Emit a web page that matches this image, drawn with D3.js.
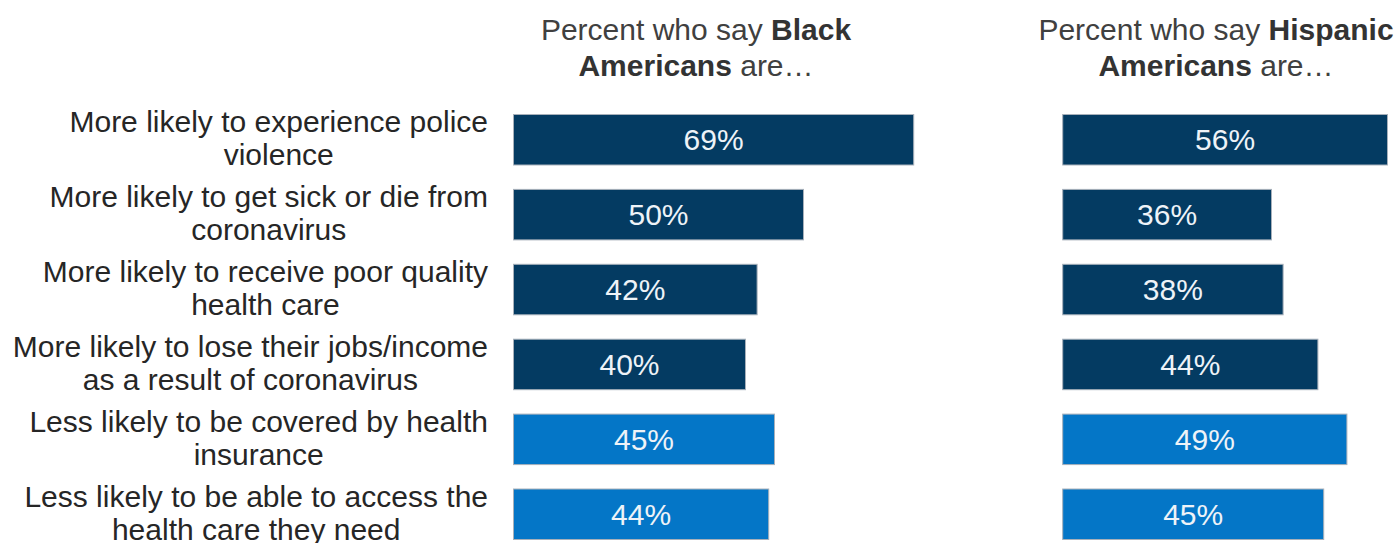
<!DOCTYPE html>
<html>
<head>
<meta charset="utf-8">
<script src="https://cdn.jsdelivr.net/npm/d3@7/dist/d3.min.js"></script>
<style>
  html, body { margin: 0; padding: 0; background: #ffffff; }
  svg { display: block; }
  text { font-family: "Liberation Sans", Arial, sans-serif; }
</style>
</head>
<body>
<svg id="chart" width="1400" height="543"></svg>
<script>
// Survey items, each split into the lines it is printed on
const categories = [
  ["More likely to experience police", "violence"],
  ["More likely to get sick or die from", "coronavirus"],
  ["More likely to receive poor quality", "health care"],
  ["More likely to lose their jobs/income", "as a result of coronavirus"],
  ["Less likely to be covered by health", "insurance"],
  ["Less likely to be able to access the", "health care they need"]
];
// "More likely" items vs "Less likely" items
const itemKinds = ["more", "more", "more", "more", "less", "less"];

// Percent who say each item applies
const blackValues = [69, 50, 42, 40, 45, 44];
const hispanicValues = [56, 36, 38, 44, 49, 45];

// Panel headings: [regular, bold, regular] pieces per line
const blackHeading = [["Percent who say ", "Black", ""], ["", "Americans", " are…"]];
const hispanicHeading = [["Percent who say ", "Hispanic", ""], ["", "Americans", " are…"]];

const FONT = 30;
const colors = { more: "#043b62", less: "#0476c7" };

const svg = d3.select("#chart");

// Shared scales
const x = d3.scaleLinear().domain([0, 100]).range([0, 580]);
const y = d3.scaleBand()
  .domain(d3.range(categories.length))
  .range([114.5, 539.5])
  .paddingInner(0.326)
  .paddingOuter(0);

// Row labels: each block is right-aligned, its lines centred on one another
const labelRight = 488;
const labels = svg.append("g").attr("class", "row-labels");
categories.forEach((lines, i) => {
  const cy = y(i) + y.bandwidth() / 2;
  const g = labels.append("g");
  const texts = lines.map((line, j) =>
    g.append("text")
      .attr("y", cy - 7.5 + j * 33)
      .attr("text-anchor", "middle")
      .attr("font-size", FONT)
      .attr("fill", "#262626")
      .text(line)
  );
  const maxW = d3.max(texts, t => t.node().getComputedTextLength());
  texts.forEach(t => t.attr("x", labelRight - maxW / 2));
});

function drawPanel(x0, headingCx, heading, values) {
  const panel = svg.append("g").attr("transform", `translate(${x0},0)`);

  // Heading
  heading.forEach((parts, j) => {
    const t = svg.append("text")
      .attr("x", headingCx)
      .attr("y", 40 + j * 36)
      .attr("text-anchor", "middle")
      .attr("font-size", FONT)
      .attr("fill", "#404040");
    parts.forEach((p, k) => {
      if (!p) return;
      t.append("tspan")
        .attr("font-weight", k === 1 ? "bold" : "normal")
        .attr("fill", k === 1 ? "#333333" : "#404040")
        .text(p);
    });
  });

  // Bars
  panel.selectAll("rect.bar")
    .data(values)
    .join("rect")
    .attr("class", "bar")
    .attr("x", x(0))
    .attr("y", (d, i) => y(i))
    .attr("width", d => x(d) - x(0))
    .attr("height", y.bandwidth())
    .attr("fill", (d, i) => colors[itemKinds[i]])
    .attr("stroke", "#a7b0ba")
    .attr("stroke-width", 1);

  // Value labels centred in each bar
  panel.selectAll("text.value")
    .data(values)
    .join("text")
    .attr("class", "value")
    .attr("x", d => (x(0) + x(d)) / 2)
    .attr("y", (d, i) => y(i) + y.bandwidth() / 2 + 10.5)
    .attr("text-anchor", "middle")
    .attr("font-size", FONT)
    .attr("fill", "#eef3f8")
    .text(d => d + "%");
}

drawPanel(513.5, 696, blackHeading, blackValues);
drawPanel(1062.7, 1216, hispanicHeading, hispanicValues);
</script>
</body>
</html>
